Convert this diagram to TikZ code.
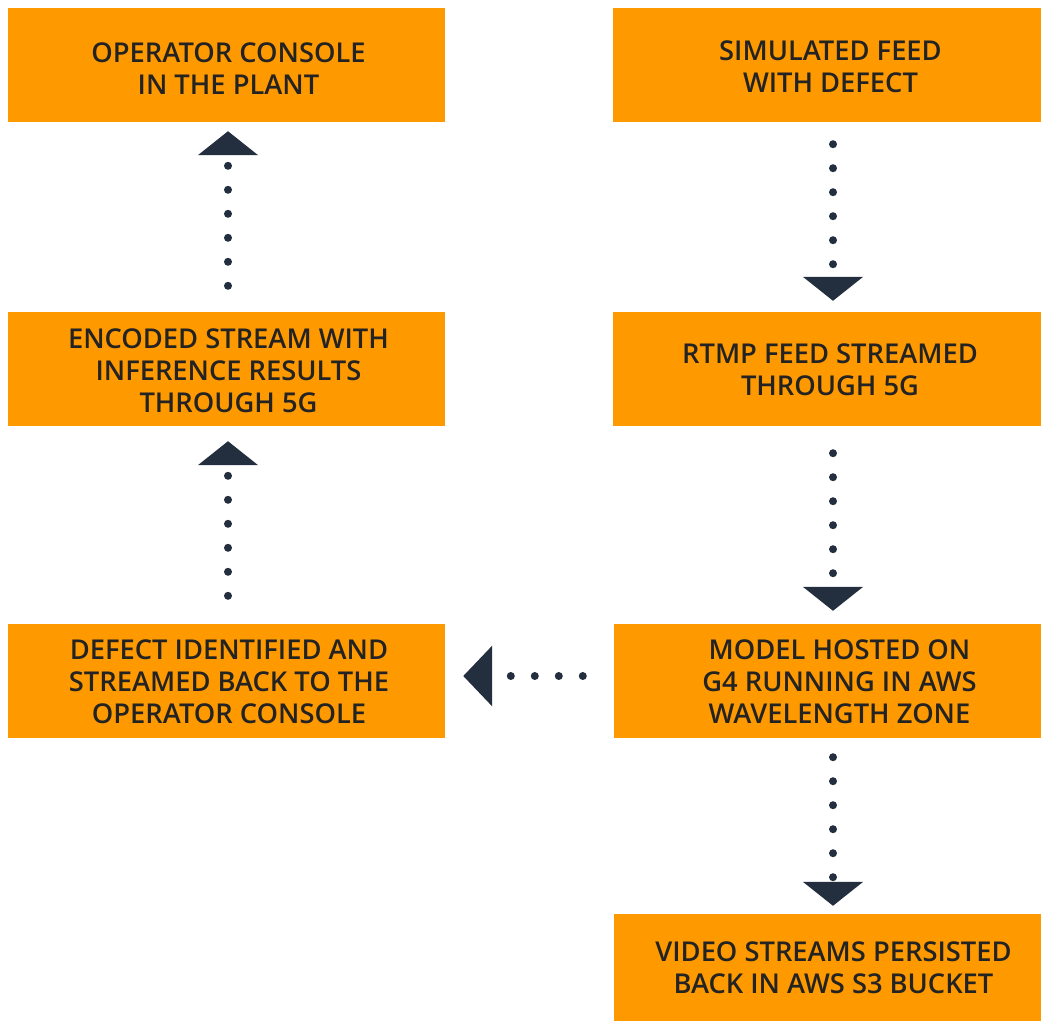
\documentclass[tikz,border=0pt]{standalone}
\usepackage{fontspec}
\setmainfont{Open Sans}
\IfFontExistsTF{Open Sans Semibold}{%
  \newfontfamily\lblfont{Open Sans Semibold}\def\lblsize{27.3}}{%
  \IfFontExistsTF{Fira Sans Medium}{%
    \newfontfamily\lblfont{Fira Sans Medium}\def\lblsize{28.5}}{%
    \newfontfamily\lblfont{Open Sans Bold}\def\lblsize{26.5}}}
\usetikzlibrary{arrows.meta,calc}
\definecolor{awsorange}{HTML}{FF9900}
\definecolor{squid}{HTML}{232F3E}
\definecolor{txtcol}{HTML}{232323}
\begin{document}
\begin{tikzpicture}[x=1pt,y=-1pt,
  box/.style={fill=awsorange, draw=none, inner sep=0pt, minimum height=114pt},
  lbl/.style={inner sep=0pt, align=center, text=txtcol, font=\lblfont\fontsize{\lblsize}{32}\selectfont},
  flow/.style={draw=squid, line width=8pt, line cap=round, dash pattern=on 0pt off 24pt,
    -{Triangle[width=59pt,length=24pt]}},
  flowh/.style={draw=squid, line width=8pt, line cap=round, dash pattern=on 0pt off 24pt,
    -{Triangle[width=59pt,length=29pt]}},
]
\useasboundingbox (0,0) rectangle (1041,1021);
\fill[white] (0,0) rectangle (1041,1021);

\node[box, minimum width=437pt] (op) at (226.5,65) {};
\node[lbl] (opt) at ($(op)+(2,4)$) {OPERATOR CONSOLE\\IN THE PLANT};

\node[box, minimum width=428pt] (sim) at (827,65) {};
\node[lbl] (simt) at ($(sim)+(3.5,2)$) {SIMULATED FEED\\WITH DEFECT};

\node[box, minimum width=437pt] (enc) at (226.5,369) {};
\node[lbl] (enct) at ($(enc)+(2,2)$) {ENCODED STREAM WITH\\INFERENCE RESULTS\\THROUGH 5G};

\node[box, minimum width=428pt] (rtmp) at (827,369) {};
\node[lbl] (rtmpt) at ($(rtmp)+(3,1)$) {RTMP FEED STREAMED\\THROUGH 5G};

\node[box, minimum width=437pt] (def) at (226.5,681) {};
\node[lbl] (deft) at ($(def)+(2.5,1)$) {DEFECT IDENTIFIED AND\\STREAMED BACK TO THE\\OPERATOR CONSOLE};

\node[box, minimum width=427pt] (model) at (827.5,681) {};
\node[lbl] (modelt) at ($(model)+(12,1)$) {MODEL HOSTED ON\\G4 RUNNING IN AWS\\WAVELENGTH ZONE};

\node[box, minimum width=427pt, minimum height=107pt] (video) at (827.5,967.5) {};
\node[lbl] (videot) at ($(video)+(6,0)$) {VIDEO STREAMS PERSISTED\\BACK IN AWS S3 BUCKET};

\draw[flow] ($(sim.south)+(6,22)$) -- ($(rtmp.north)+(6,-11)$);
\draw[flow] ($(rtmp.south)+(6,27)$) -- ($(model.north)+(5.5,-13)$);
\draw[flow] ($(model.south)+(5.5,19)$) -- ($(video.north)+(5.5,-8)$);
\draw[flowh] ($(model.west)+(-31,-5)$) -- ($(def.east)+(18,-5)$);
\draw[flow] ($(def.north)+(1.5,-28)$) -- ($(enc.south)+(1.5,15)$);
\draw[flow] ($(enc.north)+(1.5,-26)$) -- ($(op.south)+(1.5,9)$);
\end{tikzpicture}
\end{document}
